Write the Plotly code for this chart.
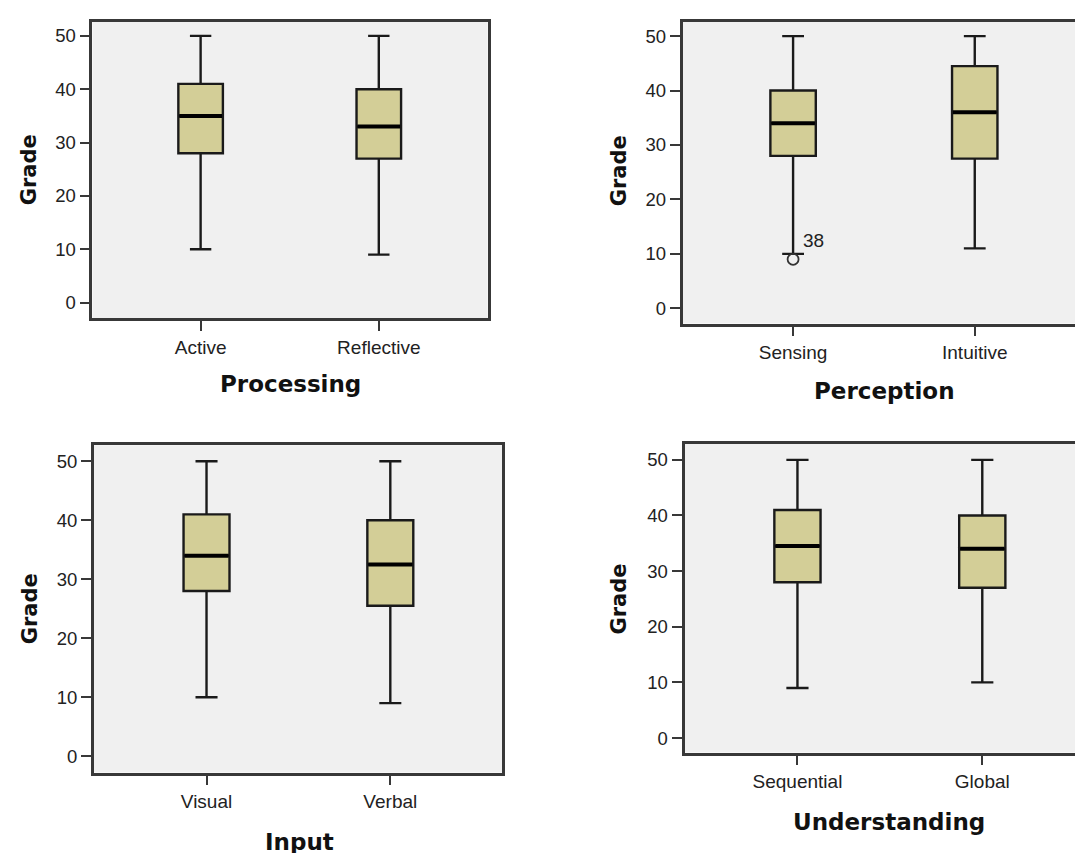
import plotly.graph_objects as go

# ---------------- data ----------------
titles = ["Processing", "Perception", "Input", "Understanding"]
categories = [["Active", "Reflective"], ["Sensing", "Intuitive"],
              ["Visual", "Verbal"], ["Sequential", "Global"]]
lower_whisker = [[10, 9], [10, 11], [10, 9], [9, 10]]
q1_vals = [[28, 27], [28, 27.5], [28, 25.5], [28, 27]]
median_vals = [[35, 33], [34, 36], [34, 32.5], [34.5, 34]]
q3_vals = [[41, 40], [40, 44.5], [41, 40], [41, 40]]
upper_whisker = [[50, 50], [50, 50], [50, 50], [50, 50]]
# outliers: (panel index, category index, value, case label)
outliers = [(1, 0, 9, "38")]
y_ticks = [0, 10, 20, 30, 40, 50]
y_label = "Grade"

# ---------------- layout geometry (pixels) ----------------
W, H = 1083, 853
# frame left, right, top, bottom in px
frames = [(84.7, 481.0, 14.0, 310.0),
          (676.5, 1080.2, 14.0, 315.5),
          (86.1, 495.8, 437.3, 764.5),
          (678.4, 1083.0, 436.0, 744.5)]
x_ranges = [[-0.607, 1.611], [-0.608, 1.608], [-0.613, 1.610], [-0.611, 1.572]]
y_ranges = [[-2.87, 52.6], [-2.8, 52.6], [-2.75, 52.7], [-2.6, 52.85]]
title_pos = [(283.2, 376.0), (879.0, 383.0), (292.7, 834.0), (883.8, 814.0)]
grade_pos = [(20.7, 161.7), (612.7, 163.3), (21.5, 600.8), (612.4, 590.8)]

BOX_W = 0.25
FILL = "#D3CE97"
FRAME = "#383838"
TXT = "#222222"

fig = go.Figure()

for p in range(4):
    xa = "x" if p == 0 else f"x{p+1}"
    ya = "y" if p == 0 else f"y{p+1}"
    xs = [0, 1]
    fig.add_trace(go.Box(
        x=xs, q1=q1_vals[p], median=median_vals[p], q3=q3_vals[p],
        lowerfence=lower_whisker[p], upperfence=upper_whisker[p],
        width=BOX_W, whiskerwidth=0.48, boxpoints=False,
        fillcolor=FILL, line=dict(color="#1a1a1a", width=2.4),
        xaxis=xa, yaxis=ya, showlegend=False, hoverinfo="skip"))
    # thick median line
    for i in range(2):
        fig.add_trace(go.Scatter(
            x=[xs[i] - BOX_W / 2 + 0.005, xs[i] + BOX_W / 2 - 0.005],
            y=[median_vals[p][i], median_vals[p][i]],
            mode="lines", line=dict(color="black", width=4),
            xaxis=xa, yaxis=ya, showlegend=False, hoverinfo="skip"))

annotations = []
for (p, ci, val, lab) in outliers:
    xa = "x" if p == 0 else f"x{p+1}"
    ya = "y" if p == 0 else f"y{p+1}"
    fig.add_trace(go.Scatter(
        x=[ci], y=[val], mode="markers",
        marker=dict(symbol="circle-open", size=11, color="#333333",
                    line=dict(width=1.8, color="#333333")),
        xaxis=xa, yaxis=ya, showlegend=False, hoverinfo="skip"))
    annotations.append(dict(
        x=ci, y=val, xref=xa, yref=ya, text=lab, showarrow=False,
        xanchor="left", yanchor="middle", xshift=8, yshift=19,
        font=dict(family="Liberation Sans, Arial", size=19, color=TXT)))

layout = dict(width=W, height=H, margin=dict(l=0, r=0, t=0, b=0),
              paper_bgcolor="white", plot_bgcolor="#F0F0F0",
              showlegend=False)

for p in range(4):
    l, r, t, b = frames[p]
    sx = "" if p == 0 else str(p + 1)
    layout["xaxis" + sx] = dict(
        domain=[l / W, min(r / W, 1.0)], range=x_ranges[p],
        anchor="y" + sx, tickmode="array", tickvals=[0, 1],
        ticktext=categories[p], ticks="outside", ticklen=10, tickwidth=2.4,
        tickcolor=FRAME, showline=True, linewidth=2.8, linecolor=FRAME,
        mirror=True, showgrid=False, zeroline=False,
        tickfont=dict(family="Liberation Sans, Arial", size=19, color=TXT))
    layout["yaxis" + sx] = dict(
        domain=[(H - b) / H, (H - t) / H], range=y_ranges[p],
        anchor="x" + sx, tickmode="array", tickvals=y_ticks,
        ticks="outside", ticklen=10, tickwidth=2.4, tickcolor=FRAME,
        showline=True, linewidth=2.8, linecolor=FRAME, mirror=True,
        showgrid=False, zeroline=False,
        tickfont=dict(family="Liberation Sans, Arial", size=18.5, color=TXT))
    tx, ty = title_pos[p]
    annotations.append(dict(
        x=tx / W, y=(H - ty) / H, xref="paper", yref="paper",
        text=f"<b>{titles[p]}</b>", showarrow=False,
        xanchor="center", yanchor="middle",
        font=dict(family="DejaVu Sans", size=23, color="#111111")))
    gx, gy = grade_pos[p]
    annotations.append(dict(
        x=gx / W, y=(H - gy) / H, xref="paper", yref="paper",
        text=f"<b>{y_label}</b>", showarrow=False, textangle=-90,
        xanchor="center", yanchor="middle",
        font=dict(family="DejaVu Sans", size=21, color="#111111")))

layout["annotations"] = annotations
fig.update_layout(**layout)
fig.write_html("out.html")
